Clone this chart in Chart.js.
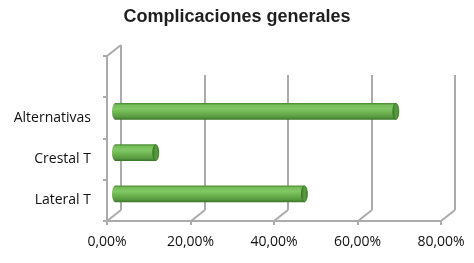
<!DOCTYPE html>
<html>
<head>
<meta charset="utf-8">
<script src="https://cdn.jsdelivr.net/npm/chart.js@4/dist/chart.umd.min.js"></script>
<style>
  html, body { margin: 0; padding: 0; background: #fff; }
  #wrap { width: 474px; height: 263px; position: relative; }
</style>
</head>
<body>
<div id="wrap"><canvas id="c" width="474" height="263"></canvas></div>
<script>
const categories = ["", "Alternativas", "Crestal T", "Lateral T"];
const values = [null, 67.5, 10, 45.6];
const xTickValues = [0, 20, 40, 60, 80];
const titleText = "Complicaciones generales";

const DEPTH_X = 14, DEPTH_Y = -11;
const BAR_DX = 7, BAR_DY = -6.5;
const GRID = '#ababab';

function fmt(v) { return v.toFixed(2).replace('.', ',') + '%'; }

function barGradient(c, yc, h) {
  const g = c.ctx.createLinearGradient(0, yc - h / 2, 0, yc + h / 2);
  g.addColorStop(0, '#4f8f39');
  g.addColorStop(0.12, '#78bf5b');
  g.addColorStop(0.35, '#80c865');
  g.addColorStop(0.6, '#6cb24f');
  g.addColorStop(0.85, '#579a40');
  g.addColorStop(1, '#3f7a2c');
  return g;
}

const frame3d = {
  id: 'frame3d',
  beforeDatasetsDraw(chart) {
    const ctx = chart.ctx, a = chart.chartArea, xs = chart.scales.x;
    ctx.save();
    ctx.strokeStyle = GRID;
    ctx.lineWidth = 2;
    const backBottom = a.bottom + DEPTH_Y;
    const backTop = a.top + DEPTH_Y;
    xTickValues.forEach((v, i) => {
      const fx = Math.round(xs.getPixelForValue(v));
      const bx = fx + DEPTH_X;
      ctx.beginPath();
      ctx.moveTo(fx, a.bottom);
      ctx.lineTo(bx, backBottom);
      ctx.stroke();
      ctx.beginPath();
      ctx.moveTo(bx, backBottom);
      ctx.lineTo(bx, i === 0 ? backTop : 75);
      ctx.stroke();
    });
    ctx.beginPath();
    ctx.moveTo(a.left, a.top);
    ctx.lineTo(a.left + DEPTH_X, backTop);
    ctx.stroke();
    ctx.restore();
    ctx.save();
    ctx.translate(BAR_DX, BAR_DY);
  },
  afterDatasetsDraw(chart) {
    const ctx = chart.ctx;
    const meta = chart.getDatasetMeta(0);
    meta.data.forEach((el, i) => {
      if (values[i] == null) return;
      const h = el.height, yc = el.y, rx = 3, ry = h / 2;
      ctx.beginPath();
      ctx.ellipse(el.base, yc, rx, ry, 0, 0, Math.PI * 2);
      ctx.fillStyle = barGradient(chart, yc, h);
      ctx.fill();
      ctx.beginPath();
      ctx.ellipse(el.x, yc, rx, ry, 0, 0, Math.PI * 2);
      const g = ctx.createLinearGradient(el.x - rx, 0, el.x + rx, 0);
      g.addColorStop(0, '#3f7a2c');
      g.addColorStop(0.5, '#5a9c42');
      g.addColorStop(1, '#4a8734');
      ctx.fillStyle = g;
      ctx.fill();
      ctx.strokeStyle = '#3b7029';
      ctx.lineWidth = 0.8;
      ctx.stroke();
    });
    ctx.restore();
  }
};

new Chart(document.getElementById('c'), {
  type: 'bar',
  data: {
    labels: categories,
    datasets: [{
      data: values,
      barThickness: 16,
      borderWidth: 0,
      backgroundColor: (ctx) => {
        const c = ctx.chart;
        if (!c.chartArea || !c.scales.y) return '#6cb24f';
        const yc = c.scales.y.getPixelForValue(ctx.dataIndex);
        return barGradient(c, yc, 16);
      }
    }]
  },
  options: {
    indexAxis: 'y',
    responsive: false,
    animation: false,
    events: [],
    layout: { padding: 0 },
    plugins: {
      legend: { display: false },
      tooltip: { enabled: false },
      title: {
        display: true,
        text: titleText,
        color: '#1f1f1f',
        font: { family: 'Liberation Sans', size: 18, weight: 'bold' },
        padding: { top: 6, bottom: 28.4 }
      }
    },
    scales: {
      x: {
        min: 0, max: 80,
        afterFit(s) { s.height = 42; },
        afterBuildTicks(s) { s.ticks = xTickValues.map(v => ({ value: v })); },
        ticks: {
          callback: (v) => fmt(v),
          color: '#111',
          font: { family: 'Open Sans', size: 14 },
          padding: 9,
          maxRotation: 0
        },
        grid: { drawOnChartArea: false, drawTicks: true, tickLength: 4, color: GRID, lineWidth: 2 },
        border: { display: true, color: GRID, width: 2 }
      },
      y: {
        afterFit(s) { s.width = 107; },
        ticks: {
          color: '#111',
          font: { family: 'Open Sans', size: 14 },
          padding: 12
        },
        grid: { offset: true, drawOnChartArea: false, drawTicks: true, tickLength: 4, color: GRID, lineWidth: 2 },
        border: { display: true, color: GRID, width: 2 }
      },
      yRight: {
        position: 'right',
        display: true,
        afterFit(s) { s.width = 33; },
        ticks: { display: false },
        grid: { display: false, drawTicks: false },
        border: { display: false }
      }
    }
  },
  plugins: [frame3d]
});
</script>
</body>
</html>
